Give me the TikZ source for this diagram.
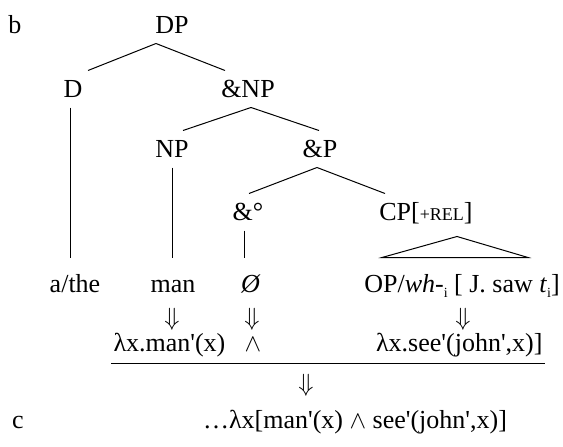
\documentclass[tikz,border=0pt]{standalone}
\usepackage{fontspec}
\setmainfont{Liberation Serif}
\usetikzlibrary{positioning}

\newcommand\pr{\textquotesingle}
\newcommand\subi{\raisebox{-5pt}{\fontsize{14}{14}\selectfont i}}

\begin{document}
\begin{tikzpicture}[
  x=1pt, y=-1pt,
  font=\fontsize{26}{30}\selectfont,
  line width=1pt,
  cat/.style={anchor=base, inner xsep=1pt, inner ysep=5pt,
              text height=21pt, text depth=5pt},
  leaf/.style={anchor=base, inner xsep=1pt, inner ysep=7pt,
               text height=27pt, text depth=7pt},
  sem/.style={anchor=base, inner xsep=2pt, inner ysep=5pt,
              text height=18pt, text depth=7pt},
  dn/.style={inner sep=0pt, font=\fontsize{28}{30}\selectfont},
  lbl/.style={anchor=base, inner sep=0pt}
]
\useasboundingbox (0,0) rectangle (563,447);

\node[lbl] (lb) at (15,33) {b};
\node[cat] (dp) at (172,33) {DP};
\node[cat] (d) at (73,97) {D};
\node[cat] (cnp) at (248,97) {\&NP};
\node[cat] (np) at (172,157) {NP};
\node[cat] (cpp) at (320,157) {\&P};
\node[cat] (conj) at (248,220) {\&°};
\node[cat] (cp) at (426,220) {CP[{\fontsize{18}{18}\selectfont +REL}]};

\node[leaf] (athe) at (75,292) {a/the};
\node[leaf] (man) at (173,292) {man};
\node[leaf] (zero) at (251,292) {\textit{Ø}};
\node[leaf] (op) at (462,292) {OP/\textit{wh}-\subi{} [ J. saw \textit{t}\subi]};

\draw ([xshift=-16pt]dp.south) -- ([xshift=15pt]d.north);
\draw ([xshift=-16pt]dp.south) -- ([xshift=-23pt]cnp.north);
\draw ([xshift=3pt]cnp.south) -- ([xshift=11pt]np.north);
\draw ([xshift=3pt]cnp.south) -- ([xshift=-1pt]cpp.north);
\draw ([xshift=-3pt]cpp.south) -- ([xshift=1pt]conj.north);
\draw ([xshift=-3pt]cpp.south) -- ([xshift=-41pt]cp.north);

\draw ([xshift=-3pt]d.south) -- ([xshift=-3pt]d.south |- athe.north);
\draw (np.south) -- (np.south |- man.north);
\draw ([xshift=-4pt]conj.south) -- ([xshift=-4pt]conj.south |- zero.north);
\draw ([xshift=-5pt,yshift=21pt]op.north) -- ([xshift=-80pt]op.north)
  -- ([xshift=66pt]op.north) -- cycle;

\foreach \n/\x in {a1/172,a2/252,a3/463}
  \node[dn] (\n) at (\x,319) {$\Downarrow$};

\node[sem, anchor=base west] (lman) at (111,351) {λx.man\pr(x)};
\node[sem] (land) at (253,351) {$\wedge$};
\node[sem, anchor=base east] (lsee) at (545,351) {λx.see\pr(john\pr,x)]};
\draw (lman.south west) -- (lman.south west -| lsee.south east);

\node[dn] (a4) at (306,385) {$\Downarrow$};

\node[lbl] (lc) at (18,428) {c};
\node[lbl] (res) at (355,428)
  {\ldots λx[man\pr(x) $\wedge$ see\pr(john\pr,x)]};
\end{tikzpicture}
\end{document}
